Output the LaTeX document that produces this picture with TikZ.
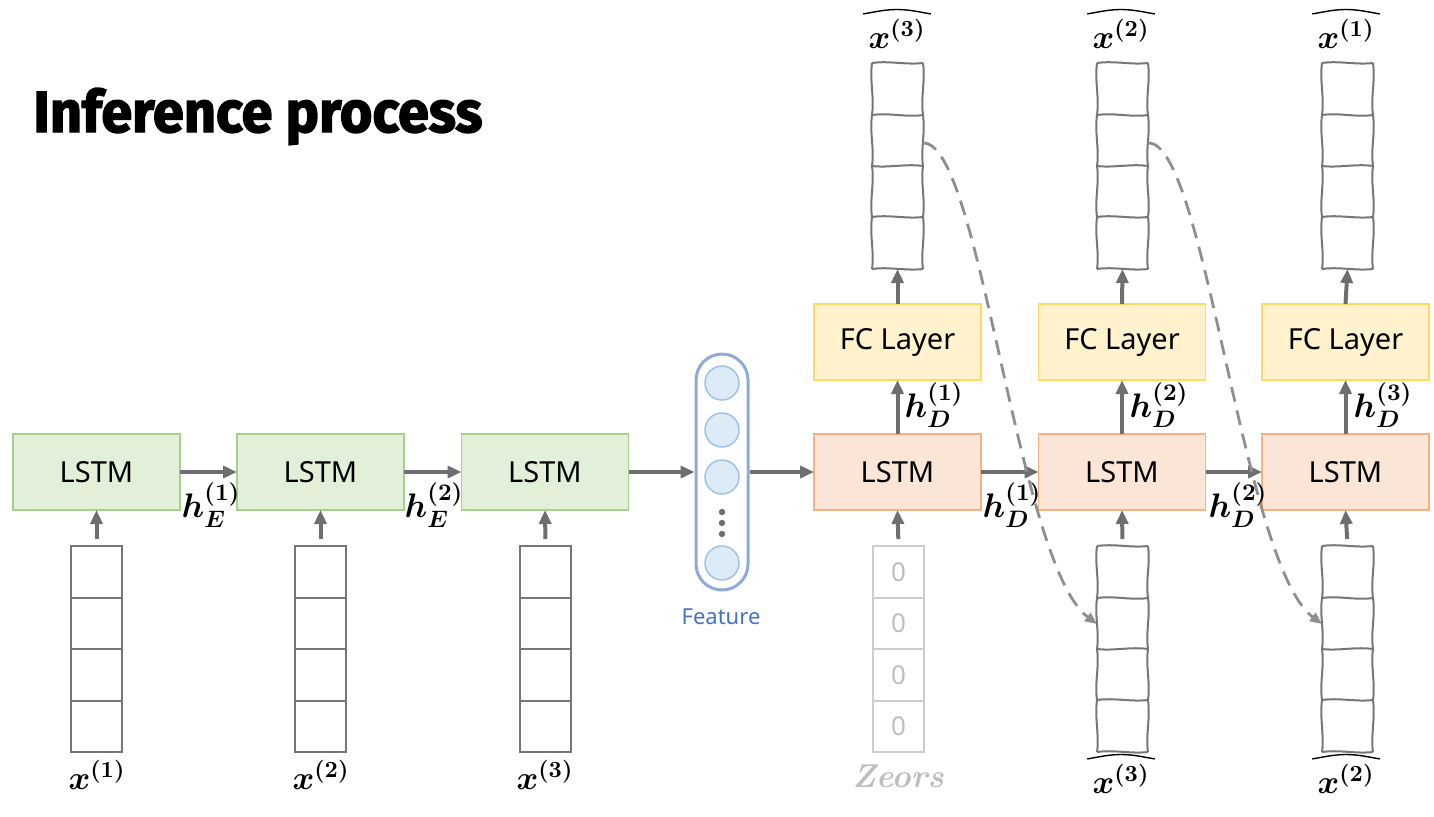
\RequirePackage{fix-cm}
\documentclass[tikz,border=0pt]{standalone}
\usepackage{amsmath}
\usepackage{bm}
\usepackage{fontspec}
\newfontfamily\labelfont{Noto Sans}
\newfontfamily\titlefont[BoldFeatures={FakeBold=2.5}]{Fira Sans}
\usetikzlibrary{arrows.meta,calc,positioning}
\definecolor{arrgray}{RGB}{110,110,110}
\definecolor{stkgray}{RGB}{118,118,118}
\definecolor{zgray}{RGB}{205,205,205}
\definecolor{ztext}{RGB}{190,190,190}
\definecolor{greenF}{RGB}{226,239,217}
\definecolor{greenB}{RGB}{169,209,142}
\definecolor{orangeF}{RGB}{251,229,214}
\definecolor{orangeB}{RGB}{244,177,131}
\definecolor{yellowF}{RGB}{255,242,204}
\definecolor{yellowB}{RGB}{255,217,102}
\definecolor{featB}{RGB}{142,169,219}
\definecolor{circF}{RGB}{221,235,247}
\definecolor{circB}{RGB}{157,195,230}
\definecolor{featT}{RGB}{68,114,196}
\definecolor{dashgray}{RGB}{143,143,143}
\newcommand\wavycells{%
  \draw[wavyline] (0,0) .. controls (-2.5,18) and (2.5,34) .. (0,52) .. controls (-2.5,70) and (2.5,86) .. (0,103) .. controls (2.5,120) and (-2.5,137) .. (0,154) .. controls (-2.5,172) and (2.5,190) .. (0,206);
  \draw[wavyline] (51,0) .. controls (53.5,18) and (48.5,34) .. (51,52) .. controls (53.5,70) and (48.5,86) .. (51,103) .. controls (48.5,120) and (53.5,137) .. (51,154) .. controls (53.5,172) and (48.5,190) .. (51,206);
  \draw[wavyline] (0,0) .. controls (17,-2.5) and (34,2) .. (51,0);
  \draw[wavyline] (0,52) .. controls (17,49.5) and (34,54.5) .. (51,52);
  \draw[wavyline] (0,103) .. controls (17,105) and (34,100.5) .. (51,103);
  \draw[wavyline] (0,154) .. controls (17,151.5) and (34,156) .. (51,154);
  \draw[wavyline] (0,206) .. controls (17,203.5) and (34,208) .. (51,206);
}
\begin{document}
\begin{tikzpicture}[x=0.5pt,y=-0.5pt,
  boxbase/.style={line width=0.75pt, minimum width=83.5pt, minimum height=38pt, inner sep=0pt, outer sep=0pt, font=\labelfont\fontsize{14.5}{17}\selectfont},
  lstmE/.style={boxbase, draw=greenB, fill=greenF},
  lstmD/.style={boxbase, draw=orangeB, fill=orangeF},
  fcbox/.style={boxbase, draw=yellowB, fill=yellowF},
  cell/.style={draw=stkgray, line width=1pt, minimum width=25.5pt, minimum height=25.75pt, inner sep=0pt, outer sep=0pt},
  zcell/.style={draw=zgray, line width=1pt, minimum width=25.5pt, minimum height=25.75pt, inner sep=0pt, outer sep=0pt, text=ztext, font=\labelfont\fontsize{13}{15}\selectfont},
  stackframe/.style={minimum width=25.5pt, minimum height=103pt, inner sep=0pt, outer sep=0pt},
  wavyline/.style={draw=stkgray, line width=1pt},
  arr/.style={draw=arrgray, line width=2pt, -{Triangle[length=7pt,width=6pt]}},
  dasharr/.style={draw=dashgray, line width=1.4pt, dash pattern=on 7.5pt off 4.5pt, -{Triangle[length=6pt,width=5pt]}},
  mlab/.style={inner sep=0pt, font=\fontsize{16.5}{19}\selectfont},
  hlab/.style={inner sep=0pt, font=\fontsize{17}{20}\selectfont},
  hatline/.style={draw=black, line width=0.7pt},
  circ/.style={circle, draw=circB, fill=circF, line width=0.75pt, minimum size=17pt, inner sep=0pt}
]
\useasboundingbox (0,0) rectangle (1434,816);

% title
\node[anchor=base west, inner sep=0pt] (title) at (33,132) {\resizebox{224.5pt}{22pt}{\titlefont\bfseries Inference process}};

% encoder
\node[lstmE] (e1) at (96.5,472) {LSTM};
\node[lstmE] (e2) at (320.5,472) {LSTM};
\node[lstmE] (e3) at (545,472) {LSTM};

% encoder inputs
\foreach \n/\x in {a/96.5,b/320.5,c/545.5}{
  \node[cell, anchor=north] (\n1) at (\x,546) {};
  \node[cell, below=0pt of \n1] (\n2) {};
  \node[cell, below=0pt of \n2] (\n3) {};
  \node[cell, below=0pt of \n3] (\n4) {};
}
\draw[arr, shorten <=3.5pt] (a1.north) -- (e1.south);
\draw[arr, shorten <=3.5pt] (b1.north) -- (e2.south);
\draw[arr, shorten <=3.5pt] (c1.north) -- (e3.south);
\node[mlab] (lx1) at (97,775) {$\bm{x^{(1)}}$};
\node[mlab] (lx2) at (321,775) {$\bm{x^{(2)}}$};
\node[mlab] (lx3) at (545,775) {$\bm{x^{(3)}}$};

\draw[arr] (e1.east) -- (e2.west);
\draw[arr] (e2.east) -- (e3.west);
\node[hlab] (he1) at (211,505) {$\bm{h_{E}^{(1)}}$};
\node[hlab] (he2) at (434,505) {$\bm{h_{E}^{(2)}}$};

% feature
\node[draw=featB, line width=1.5pt, rounded corners=13pt, minimum width=26pt, minimum height=118pt, inner sep=0pt] (feat) at (722,472) {};
\node[circ] (fc1) at (722,383) {};
\node[circ] (fc2) at (722,430) {};
\node[circ] (fc3) at (722,477) {};
\node[circ] (fc4) at (722,563) {};
\fill[arrgray] (722,512) circle (1.6pt) (722,523) circle (1.6pt) (722,534) circle (1.6pt);
\node[text=featT, font=\labelfont\fontsize{11}{13}\selectfont] (flab) at (721,617) {Feature};
\draw[arr] (e3.east) -- (feat.west);

% decoder
\node[lstmD] (d1) at (897.5,472) {LSTM};
\node[lstmD] (d2) at (1122,472) {LSTM};
\node[lstmD] (d3) at (1345.5,472) {LSTM};
\node[fcbox] (f1) at (897.5,342) {FC Layer};
\node[fcbox] (f2) at (1122,342) {FC Layer};
\node[fcbox] (f3) at (1345.5,342) {FC Layer};
\draw[arr] (feat.east) -- (d1.west);
\draw[arr] (d1.east) -- (d2.west);
\draw[arr] (d2.east) -- (d3.west);
\draw[arr] (d1.north) -- (f1.south);
\draw[arr] (d2.north) -- (f2.south);
\draw[arr] (d3.north) -- (f3.south);
\node[hlab] (hd1) at (934,405) {$\bm{h_{D}^{(1)}}$};
\node[hlab] (hd2) at (1159,405) {$\bm{h_{D}^{(2)}}$};
\node[hlab] (hd3) at (1383,405) {$\bm{h_{D}^{(3)}}$};
\node[hlab] (hd4) at (1012,505) {$\bm{h_{D}^{(1)}}$};
\node[hlab] (hd5) at (1238,505) {$\bm{h_{D}^{(2)}}$};

% output stacks
\node[stackframe, anchor=north west] (o1) at (872,63) {};
\node[stackframe, anchor=north west] (o2) at (1097,63) {};
\node[stackframe, anchor=north west] (o3) at (1322,63) {};
\foreach \s in {o1,o2,o3}{\begin{scope}[shift={(\s.north west)}]\wavycells\end{scope}}
\draw[arr] (f1.north) -- (o1.south);
\draw[arr] (f2.north) -- (o2.south);
\draw[arr] (f3.north) -- (o3.south);
\node[mlab] (ot1) at (897,34) {$\bm{x^{(3)}}$};
\node[mlab] (ot2) at (1121,34) {$\bm{x^{(2)}}$};
\node[mlab] (ot3) at (1346,34) {$\bm{x^{(1)}}$};

% zeros stack
\node[zcell, anchor=north] (z1) at (898.5,546) {0};
\node[zcell, below=0pt of z1] (z2) {0};
\node[zcell, below=0pt of z2] (z3) {0};
\node[zcell, below=0pt of z3] (z4) {0};
\draw[arr, shorten <=3.5pt] (z1.north) -- (d1.south);
\node[text=ztext, inner sep=0pt, font=\fontsize{16.5}{19}\selectfont\bfseries\itshape\addfontfeature{LetterSpace=14}] (zl) at (898,776) {Zeors};

% decoder input stacks
\node[stackframe, anchor=north west] (i2) at (1097,546) {};
\node[stackframe, anchor=north west] (i3) at (1322,546) {};
\foreach \s in {i2,i3}{\begin{scope}[shift={(\s.north west)}]\wavycells\end{scope}}
\draw[arr, shorten <=3.5pt] (i2.north) -- (d2.south);
\draw[arr, shorten <=3.5pt] (i3.north) -- (d3.south);
\node[mlab] (ib2) at (1121,779) {$\bm{x^{(3)}}$};
\node[mlab] (ib3) at (1346,779) {$\bm{x^{(2)}}$};

% wide hats over the predicted labels
\foreach \h in {ot1,ot2,ot3,ib2,ib3}{
  \draw[hatline] ($(\h.north west)+(-5,-5)$) .. controls ($(\h.north)+(-12,-9)$) .. ($(\h.north)+(0,-9.5)$) .. controls ($(\h.north)+(12,-9)$) .. ($(\h.north east)+(5,-5)$);
}

% feedback dashed connectors
\coordinate (s1) at ($(o1.north east)+(0,80)$);
\coordinate (t1) at ($(i2.north west)+(0,78)$);
\coordinate (s2) at ($(o2.north east)+(0,80)$);
\coordinate (t2) at ($(i3.north west)+(0,78)$);
\draw[dasharr] (s1) .. controls ($(s1)+(57,-3)$) and ($(t1)+(-80,-60)$) .. (t1);
\draw[dasharr] (s2) .. controls ($(s2)+(57,-3)$) and ($(t2)+(-80,-60)$) .. (t2);
\end{tikzpicture}
\end{document}
